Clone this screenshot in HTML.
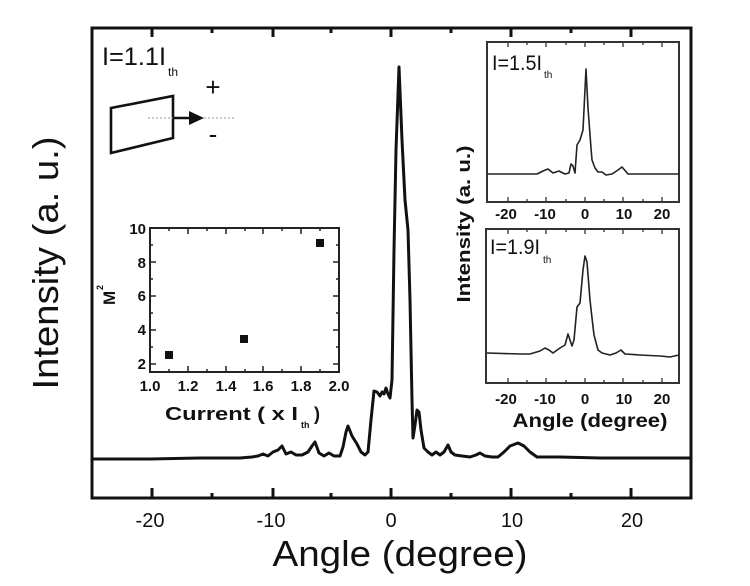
<!DOCTYPE html>
<html><head><meta charset="utf-8"><style>
html,body{margin:0;padding:0;background:#fff;}
svg{display:block;}
text{font-family:"Liberation Sans",Arial,sans-serif;fill:#111;}
.b{font-weight:bold;}
</style></head><body>
<svg width="750" height="586" viewBox="0 0 750 586" xmlns="http://www.w3.org/2000/svg">
<rect width="750" height="586" fill="#fff"/>
<!-- main frame -->
<rect x="92" y="28" width="599" height="470" fill="none" stroke="#111" stroke-width="3"/>
<g stroke="#111" stroke-width="3">
<line x1="152" y1="498" x2="152" y2="488"/><line x1="273" y1="498" x2="273" y2="488"/><line x1="391" y1="498" x2="391" y2="488"/><line x1="511" y1="498" x2="511" y2="488"/><line x1="631" y1="498" x2="631" y2="488"/>
<line x1="212" y1="498" x2="212" y2="493"/><line x1="331" y1="498" x2="331" y2="493"/><line x1="451" y1="498" x2="451" y2="493"/><line x1="571" y1="498" x2="571" y2="493"/>
<line x1="152" y1="28" x2="152" y2="37"/><line x1="273" y1="28" x2="273" y2="37"/><line x1="391" y1="28" x2="391" y2="37"/><line x1="511" y1="28" x2="511" y2="37"/><line x1="631" y1="28" x2="631" y2="37"/>
<line x1="212" y1="28" x2="212" y2="33"/><line x1="331" y1="28" x2="331" y2="33"/><line x1="451" y1="28" x2="451" y2="33"/><line x1="571" y1="28" x2="571" y2="33"/>
</g>
<g font-size="20" text-anchor="middle">
<text x="150" y="527">-20</text><text x="271" y="527">-10</text><text x="391" y="527">0</text><text x="512" y="527">10</text><text x="632" y="527">20</text>
</g>
<text x="400" y="566" font-size="36" text-anchor="middle" textLength="255" lengthAdjust="spacingAndGlyphs">Angle (degree)</text>
<text transform="translate(58,263) rotate(-90)" font-size="36" text-anchor="middle" textLength="253" lengthAdjust="spacingAndGlyphs">Intensity (a. u.)</text>

<!-- main curve -->
<polyline fill="none" stroke="#111" stroke-width="3" stroke-linejoin="round" points="92,459 150,459 200,458 240,458 252,457 258,456 263,454 268,456 273,452 278,450 282,446 286,454 291,452 296,455 302,455 308,452 312,446 315,442 319,453 324,456 329,453 334,456 340,456 343,447 346,432 348,426 352,436 357,444 361,452 365,455 368,452 371,420 374,391 377,392 380,396 382,392 384,394 386,388 388,394 390,398 392,380 394,250 396,150 399,67 402,140 405,200 408,230 410,300 412,400 413,438 415,425 417,410 419,412 421,430 424,448 428,452 432,455 436,452 440,455 444,452 448,445 451,452 455,455 462,456 470,457 476,455 480,453 485,456 492,457 498,457 504,452 510,446 518,443 524,446 530,452 537,457 560,457 600,458 650,458 691,458"/>

<!-- I=1.1Ith label and schematic -->
<text x="102" y="65" font-size="25" textLength="64" lengthAdjust="spacingAndGlyphs">I=1.1I</text>
<text x="168" y="76" font-size="12">th</text>
<polygon points="111,108 173,96 173,138 111,153" fill="none" stroke="#111" stroke-width="2.6"/>
<line x1="148" y1="118" x2="235" y2="118" stroke="#999" stroke-width="1" stroke-dasharray="2,2"/>
<line x1="173" y1="118" x2="192" y2="118" stroke="#111" stroke-width="2.5"/>
<polygon points="189,111 204,118 189,125" fill="#111"/>
<text x="213" y="96" font-size="26" text-anchor="middle">+</text>
<text x="213" y="143" font-size="26" text-anchor="middle">-</text>

<!-- M2 inset -->
<rect x="150" y="228" width="189" height="144" fill="none" stroke="#222" stroke-width="2"/>
<g stroke="#222" stroke-width="1.5">
<line x1="150" y1="364" x2="156" y2="364"/><line x1="150" y1="330" x2="156" y2="330"/><line x1="150" y1="296" x2="156" y2="296"/><line x1="150" y1="262" x2="156" y2="262"/>
<line x1="150" y1="347" x2="153" y2="347"/><line x1="150" y1="313" x2="153" y2="313"/><line x1="150" y1="279" x2="153" y2="279"/><line x1="150" y1="245" x2="153" y2="245"/>
<line x1="339" y1="364" x2="333" y2="364"/><line x1="339" y1="330" x2="333" y2="330"/><line x1="339" y1="296" x2="333" y2="296"/><line x1="339" y1="262" x2="333" y2="262"/>
<line x1="339" y1="347" x2="336" y2="347"/><line x1="339" y1="313" x2="336" y2="313"/><line x1="339" y1="279" x2="336" y2="279"/><line x1="339" y1="245" x2="336" y2="245"/>
<line x1="188" y1="372" x2="188" y2="366"/><line x1="226" y1="372" x2="226" y2="366"/><line x1="263" y1="372" x2="263" y2="366"/><line x1="301" y1="372" x2="301" y2="366"/>
<line x1="169" y1="372" x2="169" y2="369"/><line x1="207" y1="372" x2="207" y2="369"/><line x1="245" y1="372" x2="245" y2="369"/><line x1="282" y1="372" x2="282" y2="369"/><line x1="320" y1="372" x2="320" y2="369"/>
<line x1="188" y1="228" x2="188" y2="234"/><line x1="226" y1="228" x2="226" y2="234"/><line x1="263" y1="228" x2="263" y2="234"/><line x1="301" y1="228" x2="301" y2="234"/>
<line x1="169" y1="228" x2="169" y2="231"/><line x1="207" y1="228" x2="207" y2="231"/><line x1="245" y1="228" x2="245" y2="231"/><line x1="282" y1="228" x2="282" y2="231"/><line x1="320" y1="228" x2="320" y2="231"/>
</g>
<rect x="165" y="351" width="8" height="8" fill="#111"/>
<rect x="240" y="335" width="8" height="8" fill="#111"/>
<rect x="316" y="239" width="8" height="8" fill="#111"/>
<g class="b" font-size="15" text-anchor="end">
<text class="b" x="146" y="369">2</text><text class="b" x="146" y="335">4</text><text class="b" x="146" y="301">6</text><text class="b" x="146" y="268">8</text><text class="b" x="146" y="234">10</text>
</g>
<g font-size="15" text-anchor="middle">
<text class="b" x="150" y="391">1.0</text><text class="b" x="188" y="391">1.2</text><text class="b" x="226" y="391">1.4</text><text class="b" x="263" y="391">1.6</text><text class="b" x="301" y="391">1.8</text><text class="b" x="339" y="391">2.0</text>
</g>
<text class="b" x="165" y="420" font-size="18" textLength="133" lengthAdjust="spacingAndGlyphs">Current ( x I</text>
<text class="b" x="301" y="428" font-size="9">th</text>
<text class="b" x="314" y="420" font-size="18">)</text>
<text class="b" transform="translate(115,305) rotate(-90)" font-size="17">M</text>
<text class="b" transform="translate(103,290) rotate(-90)" font-size="9">2</text>

<!-- right inset label -->
<text class="b" transform="translate(470,224) rotate(-90)" font-size="18" text-anchor="middle" textLength="157" lengthAdjust="spacingAndGlyphs">Intensity (a. u.)</text>

<!-- top right inset -->
<rect x="487" y="42" width="192" height="160" fill="none" stroke="#333" stroke-width="2"/>
<g stroke="#333" stroke-width="1.3">
<line x1="508" y1="202" x2="508" y2="197"/><line x1="546" y1="202" x2="546" y2="197"/><line x1="585" y1="202" x2="585" y2="197"/><line x1="623" y1="202" x2="623" y2="197"/><line x1="662" y1="202" x2="662" y2="197"/>
<line x1="527" y1="202" x2="527" y2="199"/><line x1="566" y1="202" x2="566" y2="199"/><line x1="604" y1="202" x2="604" y2="199"/><line x1="643" y1="202" x2="643" y2="199"/>
<line x1="508" y1="42" x2="508" y2="47"/><line x1="546" y1="42" x2="546" y2="47"/><line x1="585" y1="42" x2="585" y2="47"/><line x1="623" y1="42" x2="623" y2="47"/><line x1="662" y1="42" x2="662" y2="47"/>
<line x1="527" y1="42" x2="527" y2="45"/><line x1="566" y1="42" x2="566" y2="45"/><line x1="604" y1="42" x2="604" y2="45"/><line x1="643" y1="42" x2="643" y2="45"/>
</g>
<polyline fill="none" stroke="#222" stroke-width="1.6" stroke-linejoin="round" points="488,174 537,174 543,171 548,169 553,173 559,171 565,174 569,173 571,164 573,166 575,173 577,145 580,140 583,130 586,69 588,108 591,148 592,160 595,168 598,172 602,172 606,175 612,174 618,170 622,167 628,174 650,174 679,174"/>
<text x="492" y="70" font-size="21" textLength="50" lengthAdjust="spacingAndGlyphs">I=1.5I</text>
<text x="544" y="78" font-size="10">th</text>
<g font-size="15" text-anchor="middle">
<text class="b" x="506" y="219">-20</text><text class="b" x="545" y="219">-10</text><text class="b" x="585" y="219">0</text><text class="b" x="624" y="219">10</text><text class="b" x="662" y="219">20</text>
</g>

<!-- bottom right inset -->
<rect x="486" y="229" width="193" height="154" fill="none" stroke="#333" stroke-width="2"/>
<g stroke="#333" stroke-width="1.3">
<line x1="508" y1="383" x2="508" y2="378"/><line x1="546" y1="383" x2="546" y2="378"/><line x1="585" y1="383" x2="585" y2="378"/><line x1="623" y1="383" x2="623" y2="378"/><line x1="662" y1="383" x2="662" y2="378"/>
<line x1="527" y1="383" x2="527" y2="380"/><line x1="566" y1="383" x2="566" y2="380"/><line x1="604" y1="383" x2="604" y2="380"/><line x1="643" y1="383" x2="643" y2="380"/>
<line x1="508" y1="229" x2="508" y2="234"/><line x1="546" y1="229" x2="546" y2="234"/><line x1="585" y1="229" x2="585" y2="234"/><line x1="623" y1="229" x2="623" y2="234"/><line x1="662" y1="229" x2="662" y2="234"/>
<line x1="527" y1="229" x2="527" y2="232"/><line x1="566" y1="229" x2="566" y2="232"/><line x1="604" y1="229" x2="604" y2="232"/><line x1="643" y1="229" x2="643" y2="232"/>
</g>
<polyline fill="none" stroke="#222" stroke-width="1.6" stroke-linejoin="round" points="487,353 520,354 530,354 540,351 545,348 549,350 553,353 560,348 565,345 568,334 572,346 574,340 577,307 580,303 583,270 585,256 587,262 590,300 592,318 594,335 598,350 602,353 610,355 616,353 621,350 625,354 640,355 660,356 670,357 679,355"/>
<text x="490" y="254" font-size="21" textLength="50" lengthAdjust="spacingAndGlyphs">I=1.9I</text>
<text x="543" y="263" font-size="10">th</text>
<g font-size="15" text-anchor="middle">
<text class="b" x="506" y="404">-20</text><text class="b" x="545" y="404">-10</text><text class="b" x="585" y="404">0</text><text class="b" x="624" y="404">10</text><text class="b" x="662" y="404">20</text>
</g>
<text class="b" x="590" y="427" font-size="19" text-anchor="middle" textLength="155" lengthAdjust="spacingAndGlyphs">Angle (degree)</text>
</svg>
</body></html>
